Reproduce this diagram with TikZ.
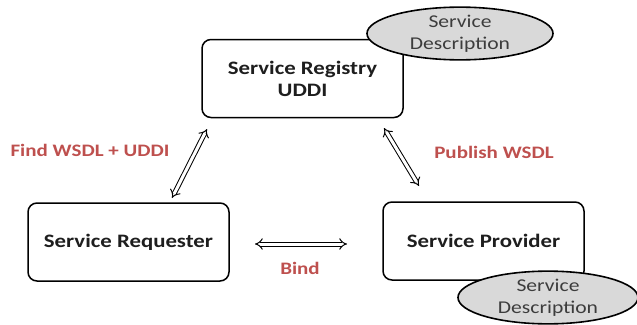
\documentclass[tikz,border=0pt]{standalone}
\usepackage{fontspec}
\setmainfont{Carlito}
\newfontfamily\widefont[FakeStretch=1.2]{Carlito}
\usetikzlibrary{arrows.meta,shapes.geometric}
\definecolor{lblred}{RGB}{190,80,78}
\definecolor{boxtext}{RGB}{30,30,30}
\definecolor{desctext}{RGB}{60,60,60}
\definecolor{descfill}{RGB}{217,217,217}
\tikzset{
  svcbox/.style={draw=black, line width=1.5pt, rounded corners=9pt, fill=white,
    text=boxtext, font=\widefont\bfseries\fontsize{19}{22}\selectfont, align=center,
    minimum width=201pt, minimum height=78pt, inner sep=0pt},
  descell/.style={ellipse, draw=black, line width=1.6pt, fill=descfill, text=desctext,
    font=\widefont\fontsize{18}{22}\selectfont, align=center, inner sep=0pt},
  lbl/.style={text=lblred, font=\widefont\bfseries\fontsize{17.5}{20}\selectfont, inner sep=0pt},
  dblarrow/.style={double=white, draw=black, line width=1pt, double distance=3pt,
    {Implies[]}-{Implies[]}},
}
\begin{document}
\begin{tikzpicture}[x=1pt,y=-1pt]
\useasboundingbox (0,0) rectangle (637,324);
\node[svcbox] (reg) at (302.5,78.5) {Service Registry\\UDDI};
\node[descell, minimum width=186pt, minimum height=49pt] (desc1) at (460,33.5) {Service\\Description};
\node[svcbox] (req) at (128.5,242) {Service Requester};
\node[svcbox] (prov) at (483.5,241) {Service Provider};
\node[descell, minimum width=180pt, minimum height=46pt] (desc2) at (548,297.5) {Service\\Description};
\coordinate (f1) at (207,129);
\coordinate (f2) at (172,198);
\coordinate (p1) at (384,128);
\coordinate (p2) at (419,186);
\coordinate (b1) at (255,244);
\coordinate (b2) at (347,244);
\draw[dblarrow] (f1) -- (f2);
\draw[dblarrow] (p1) -- (p2);
\draw[dblarrow] (b1) -- (b2);
\node[lbl] (lfind) at (90,150) {Find WSDL + UDDI};
\node[lbl] (lpub) at (494,152) {Publish WSDL};
\node[lbl] (lbind) at (300,268) {Bind};
\end{tikzpicture}
\end{document}
